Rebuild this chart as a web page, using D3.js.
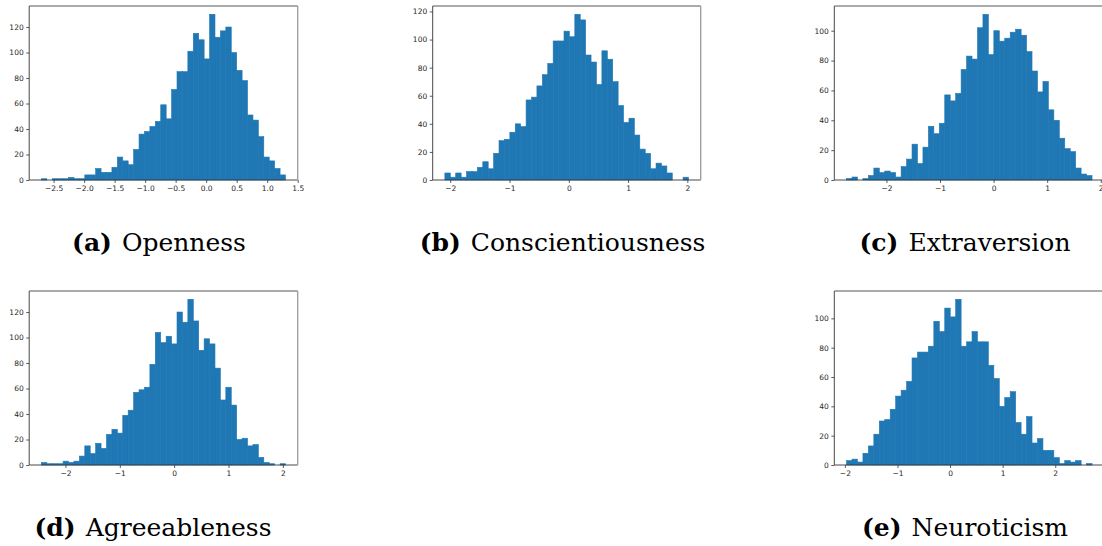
<!DOCTYPE html>
<html>
<head>
<meta charset="utf-8">
<script src="https://cdn.jsdelivr.net/npm/d3@7/dist/d3.min.js"></script>
<style>
  html, body { margin: 0; padding: 0; background: #ffffff; }
  svg { display: block; }
</style>
</head>
<body>
<svg id="chart" width="1102" height="546"></svg>
<script>
// Big Five trait score histograms: 45 equal-width bins per trait.
const traitNames = ["Openness", "Conscientiousness", "Extraversion", "Agreeableness", "Neuroticism"];
const traitLetters = ["a", "b", "c", "d", "e"];

// bin counts (45 bins spanning each trait's min..max)
const opennessCounts = [1,0,1,1,1,2,1,1,4,4,9,6,6,10,18,15,12,24,36,38,42,46,59,48,71,85,85,101,115,110,95,130,112,117,120,100,86,78,51,47,34,18,15,9,4];
const conscientiousnessCounts = [5,2,5,2,6,6,9,13,8,19,28,29,34,40,38,57,59,67,75,83,99,99,106,102,118,114,89,84,68,92,86,70,53,41,44,32,22,19,8,12,10,5,0,0,2];
const extraversionCounts = [1,2,0,1,3,8,5,6,5,2,9,14,24,11,22,36,31,38,57,53,58,74,83,81,102,111,84,100,93,95,99,101,97,86,73,59,66,47,40,28,21,19,8,4,3];
const agreeablenessCounts = [2,1,1,1,3,2,3,7,15,9,17,13,24,28,25,39,43,57,59,61,79,104,96,101,95,120,112,130,113,90,99,95,76,51,61,47,20,21,15,16,6,2,1,0,1];
const neuroticismCounts = [3,4,2,8,13,21,30,31,38,47,51,57,73,77,77,81,98,91,107,101,113,81,84,91,84,84,68,59,40,46,50,29,21,33,15,18,10,10,5,1,3,2,3,0,1];

// score range (min, max) covered by the bins of each trait
const opennessRange = [-2.70, 1.30];
const conscientiousnessRange = [-2.09, 2.02];
const extraversionRange = [-2.744, 1.837];
const agreeablenessRange = [-2.443, 2.049];
const neuroticismRange = [-1.968, 2.699];

// tick labels
const opennessXTicks = [-2.5, -2.0, -1.5, -1.0, -0.5, 0.0, 0.5, 1.0, 1.5];
const integerXTicks = [-2, -1, 0, 1, 2];
const yTicks120 = [0, 20, 40, 60, 80, 100, 120];
const yTicks100 = [0, 20, 40, 60, 80, 100];

const panels = [
  { counts: opennessCounts, range: opennessRange, xTicks: opennessXTicks, xFmt: d3.format(".1f"), yTicks: yTicks120,
    left: 29.2, top: 6, width: 268.5, height: 174, capX: 159, capY: 251.3 },
  { counts: conscientiousnessCounts, range: conscientiousnessRange, xTicks: integerXTicks, xFmt: d3.format("d"), yTicks: yTicks120,
    left: 432.7, top: 6, width: 268, height: 174, capX: 562.5, capY: 251.3 },
  { counts: extraversionCounts, range: extraversionRange, xTicks: integerXTicks, xFmt: d3.format("d"), yTicks: yTicks100,
    left: 834.3, top: 6, width: 270, height: 174, capX: 965, capY: 251.3 },
  { counts: agreeablenessCounts, range: agreeablenessRange, xTicks: integerXTicks, xFmt: d3.format("d"), yTicks: yTicks120,
    left: 29.2, top: 291, width: 268.5, height: 174, capX: 153, capY: 535.5 },
  { counts: neuroticismCounts, range: neuroticismRange, xTicks: integerXTicks, xFmt: d3.format("d"), yTicks: yTicks100,
    left: 834.3, top: 291, width: 270, height: 174, capX: 965, capY: 535.5 }
];

const svg = d3.select("#chart");
const barColor = "#1f77b4";
const captionFont = "'DejaVu Serif', 'Liberation Serif', 'Noto Serif', serif";

panels.forEach((p, k) => {
  const [lo, hi] = p.range;
  const span = hi - lo;
  const nBins = p.counts.length;
  const binW = span / nBins;
  const ymax = d3.max(p.counts) * 1.05;

  const x = d3.scaleLinear().domain([lo - 0.05 * span, hi + 0.05 * span]).range([0, p.width]);
  const y = d3.scaleLinear().domain([0, ymax]).range([p.height, 0]);

  const g = svg.append("g").attr("transform", `translate(${p.left},${p.top})`);

  const bins = p.counts.map((c, i) => ({ x0: lo + i * binW, x1: lo + (i + 1) * binW, count: c }));

  g.append("g")
    .selectAll("rect")
    .data(bins.filter(b => b.count > 0))
    .join("rect")
    .attr("x", b => x(b.x0))
    .attr("width", b => x(b.x1) - x(b.x0))
    .attr("y", b => y(b.count))
    .attr("height", b => y(0) - y(b.count))
    .attr("fill", barColor)
    .attr("stroke", barColor)
    .attr("stroke-width", 0.6);

  const minusFmt = v => p.xFmt(v).replace("-", "\u2212");

  const xAxis = d3.axisBottom(x).tickValues(p.xTicks).tickFormat(minusFmt).tickSize(3).tickPadding(2.5);
  const yAxis = d3.axisLeft(y).tickValues(p.yTicks).tickFormat(d3.format("d")).tickSize(3).tickPadding(2.5);

  const gx = g.append("g").attr("transform", `translate(0,${p.height})`).call(xAxis);
  const gy = g.append("g").call(yAxis);
  [gx, gy].forEach(a => {
    a.select(".domain").remove();
    a.selectAll(".tick line").attr("stroke", "#333").attr("stroke-width", 0.8);
    a.selectAll(".tick text")
      .attr("font-family", "DejaVu Sans")
      .attr("font-size", 7.5)
      .attr("fill", "#262626");
  });

  // frame: left, bottom, top dark; right lighter
  const spine = (x1, y1, x2, y2, col, w) =>
    g.append("line").attr("x1", x1).attr("y1", y1).attr("x2", x2).attr("y2", y2)
      .attr("stroke", col).attr("stroke-width", w);
  spine(0, 0, 0, p.height, "#333", 0.9);
  spine(0, p.height, p.width, p.height, "#333", 0.9);
  spine(0, 0, p.width, 0, "#444", 0.9);
  spine(p.width, 0, p.width, p.height, "#9a9a9a", 1.3);

  // subfigure caption
  const cap = svg.append("text")
    .attr("x", p.capX)
    .attr("y", p.capY)
    .attr("text-anchor", "middle")
    .attr("font-family", captionFont)
    .attr("font-size", 25)
    .attr("fill", "#000");
  cap.append("tspan").attr("font-weight", "bold").text(`(${traitLetters[k]})`);
  cap.append("tspan").attr("dx", 10).text(traitNames[k]);
});
</script>
</body>
</html>
